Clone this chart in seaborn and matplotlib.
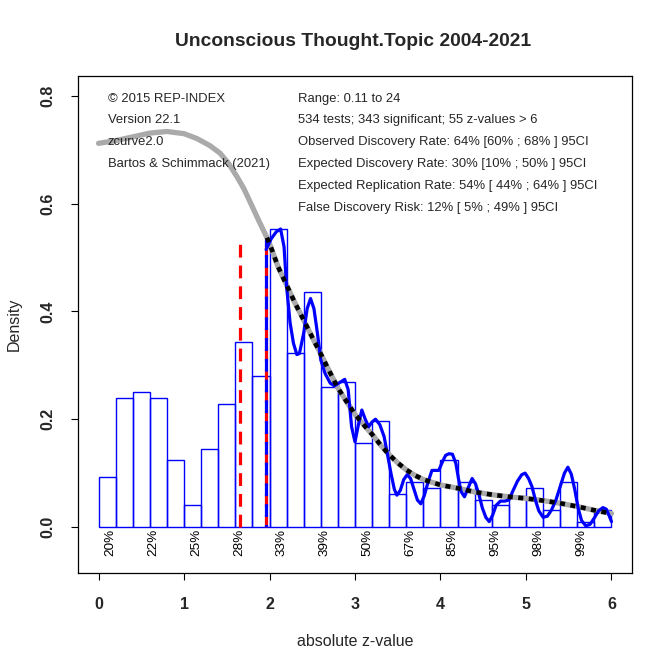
import numpy as np
import pandas as pd
import matplotlib
matplotlib.use("Agg")
import matplotlib.pyplot as plt
import seaborn as sns

# ---------------- data ----------------
bin_edges = [0.0, 0.2, 0.4, 0.6, 0.8, 1.0, 1.2, 1.4, 1.6, 1.8, 2.0,
             2.2, 2.4, 2.6, 2.8, 3.0, 3.2, 3.4, 3.6, 3.8, 4.0,
             4.2, 4.4, 4.6, 4.8, 5.0, 5.2, 5.4, 5.6, 5.8, 6.0]
bar_heights = [0.092, 0.239, 0.250, 0.239, 0.124, 0.040, 0.144, 0.228, 0.343, 0.280,
               0.553, 0.322, 0.437, 0.259, 0.270, 0.155, 0.196, 0.061, 0.083, 0.072,
               0.124, 0.083, 0.051, 0.041, 0.057, 0.072, 0.031, 0.083, 0.009, 0.031]

# fitted z-curve (grey)
curve_z = [0.0, 0.2, 0.4, 0.6, 0.8, 1.0, 1.15, 1.3, 1.42, 1.52, 1.62, 1.70, 1.78, 1.87,
           1.97, 2.01, 2.1, 2.2, 2.3, 2.4, 2.5, 2.6, 2.7, 2.8, 2.9, 3.0, 3.1, 3.2, 3.3,
           3.4, 3.5, 3.6, 3.7, 3.8, 3.9, 4.0, 4.2, 4.4, 4.6, 4.8, 5.0, 5.2, 5.4, 5.6,
           5.8, 6.0]
curve_d = [0.712, 0.717, 0.724, 0.731, 0.734, 0.730, 0.721, 0.708, 0.694, 0.675, 0.650,
           0.628, 0.601, 0.570, 0.537, 0.522, 0.483, 0.449, 0.415, 0.384, 0.352, 0.321,
           0.289, 0.258, 0.233, 0.209, 0.190, 0.172, 0.152, 0.134, 0.119, 0.106, 0.096,
           0.088, 0.083, 0.078, 0.072, 0.065, 0.060, 0.056, 0.053, 0.049, 0.044, 0.038,
           0.031, 0.025]

# observed density of significant z-values (blue)
kde_z = [1.96, 2.02, 2.08, 2.13, 2.17, 2.20, 2.24, 2.28, 2.32, 2.35, 2.40, 2.44, 2.48,
         2.52, 2.56, 2.60, 2.65, 2.71, 2.76, 2.82, 2.88, 2.92, 2.96, 3.00, 3.04, 3.08,
         3.12, 3.16, 3.20, 3.24, 3.29, 3.34, 3.38, 3.42, 3.46, 3.49, 3.53, 3.57, 3.61,
         3.65, 3.69, 3.73, 3.77, 3.81, 3.85, 3.90, 3.94, 3.98, 4.02, 4.06, 4.10, 4.14,
         4.18, 4.21, 4.24, 4.28, 4.33, 4.37, 4.41, 4.45, 4.49, 4.53, 4.57, 4.61, 4.65,
         4.70, 4.75, 4.80, 4.85, 4.90, 4.95, 4.99, 5.03, 5.07, 5.11, 5.15, 5.20, 5.25,
         5.30, 5.35, 5.41, 5.45, 5.49, 5.53, 5.57, 5.61, 5.65, 5.70, 5.75, 5.80, 5.85,
         5.90, 5.94, 5.97, 6.00]
kde_d = [0.515, 0.535, 0.548, 0.553, 0.520, 0.446, 0.380, 0.341, 0.320, 0.322, 0.360,
         0.405, 0.424, 0.405, 0.360, 0.310, 0.285, 0.267, 0.262, 0.268, 0.274, 0.255,
         0.186, 0.158, 0.190, 0.217, 0.200, 0.186, 0.195, 0.200, 0.190, 0.168, 0.135,
         0.100, 0.070, 0.059, 0.068, 0.088, 0.097, 0.090, 0.070, 0.050, 0.043, 0.058,
         0.081, 0.105, 0.105, 0.105, 0.120, 0.133, 0.136, 0.135, 0.118, 0.090, 0.066,
         0.056, 0.075, 0.090, 0.080, 0.060, 0.035, 0.018, 0.010, 0.022, 0.040, 0.048,
         0.048, 0.050, 0.068, 0.085, 0.097, 0.100, 0.090, 0.075, 0.050, 0.030, 0.018,
         0.020, 0.032, 0.050, 0.080, 0.100, 0.111, 0.098, 0.070, 0.035, 0.012, 0.002,
         0.005, 0.017, 0.030, 0.036, 0.033, 0.022, 0.010]

crit_low = 1.65
crit_sig = 1.96
crit_top = 0.535

pct_labels = ["20%", "22%", "25%", "28%", "33%", "39%", "50%", "67%", "85%",
              "95%", "98%", "99%"]

info_left = ["\u00a9 2015 REP-INDEX", "Version 22.1", "zcurve2.0",
             "Bartos & Schimmack (2021)"]
info_right = ["Range: 0.11 to 24",
              "534 tests; 343 significant; 55 z-values > 6",
              "Observed Discovery Rate: 64% [60% ; 68% ] 95CI",
              "Expected Discovery Rate: 30% [10% ; 50% ] 95CI",
              "Expected Replication Rate: 54% [ 44% ; 64% ] 95CI",
              "False Discovery Risk: 12% [ 5% ; 49% ] 95CI"]

title = "Unconscious Thought.Topic 2004-2021"
xlabel = "absolute z-value"
ylabel = "Density"
xticks = [0, 1, 2, 3, 4, 5, 6]
yticks = [0.0, 0.2, 0.4, 0.6, 0.8]
ytick_labels = ["0.0", "0.2", "0.4", "0.6", "0.8"]

# ---------------- plotting ----------------
sns.set_style("ticks")
plt.rcParams["font.family"] = ["Liberation Sans", "DejaVu Sans"]

fig = plt.figure(figsize=(6.72, 6.71), dpi=100)
ax = fig.add_axes([78 / 672, 1 - 573 / 671, (632 - 78) / 672, (573 - 76) / 671])

edges = np.array(bin_edges)
mids = (edges[:-1] + edges[1:]) / 2
hist_df = pd.DataFrame({"z": mids, "h": bar_heights})
sns.histplot(data=hist_df, x="z", weights="h", bins=bin_edges, stat="count",
             fill=False, color="blue", linewidth=1.0, ax=ax, zorder=2)

curve_df = pd.DataFrame({"z": curve_z, "d": curve_d})
sns.lineplot(data=curve_df, x="z", y="d", color="#AAAAAA", linewidth=3.8,
             sort=False, estimator=None, ax=ax, zorder=3)

ax.vlines(crit_low, 0, crit_top, colors="red", linewidth=2.3,
          linestyles=[(0, (4, 2.5))], zorder=4)
ax.vlines(crit_sig, 0, crit_top, colors="red", linewidth=2.3,
          linestyles=[(0, (4, 2.5))], zorder=4)
ax.vlines(crit_sig, 0, crit_top, colors="blue", linewidth=2.3,
          linestyles=[(3.2, (4, 2.5))], zorder=4)

kde_df = pd.DataFrame({"z": kde_z, "d": kde_d})
sns.lineplot(data=kde_df, x="z", y="d", color="blue", linewidth=2.3,
             sort=False, estimator=None, ax=ax, zorder=5)

dot_df = curve_df[curve_df["z"] >= crit_sig]
sns.lineplot(data=dot_df, x="z", y="d", color="black", linewidth=3.3,
             linestyle=(0, (1.1, 1.2)), sort=False, estimator=None, ax=ax, zorder=6)

# percentage labels under the histogram
for i, lab in enumerate(pct_labels):
    ax.text(0.143 + 0.5 * i, -0.003, lab, rotation=90, ha="center", va="top",
            fontsize=9.7, color="black", zorder=7)

# info text
row_y = [0.795, 0.755, 0.714, 0.673, 0.633, 0.592]
for i, t in enumerate(info_left):
    ax.text(0.11, row_y[i], t, ha="left", va="center", fontsize=9.35)
for i, t in enumerate(info_right):
    ax.text(2.33, row_y[i], t, ha="left", va="center", fontsize=9.35)

ax.set_xlim(-0.24, 6.24)
ax.set_ylim(-0.0854, 0.837)
ax.set_xticks(xticks)
ax.set_xticklabels([str(v) for v in xticks], fontweight="bold", fontsize=11.5)
ax.set_yticks(yticks)
ax.set_yticklabels(ytick_labels, fontweight="bold", fontsize=11.5, rotation=90,
                   va="center")
ax.tick_params(axis="both", direction="out", length=5.2, width=0.8, color="black")
ax.tick_params(axis="x", pad=12)
ax.tick_params(axis="y", pad=11)
for s in ax.spines.values():
    s.set_visible(True)
    s.set_color("black")
    s.set_linewidth(0.9)

ax.set_xlabel(xlabel, fontsize=11.5)
ax.set_ylabel(ylabel, fontsize=11.5)
ax.yaxis.set_label_coords((14 - 78) / 554, 0.5)
ax.xaxis.set_label_coords(0.5, (573 - 641) / 497)
ax.yaxis.label.set_va("center")
ax.xaxis.label.set_va("center")
fig.text(353.5 / 672, 1 - 41 / 671, title, ha="center", va="center",
         fontsize=13.9, fontweight="bold")

fig.savefig("out.png", dpi=100, facecolor="white")
